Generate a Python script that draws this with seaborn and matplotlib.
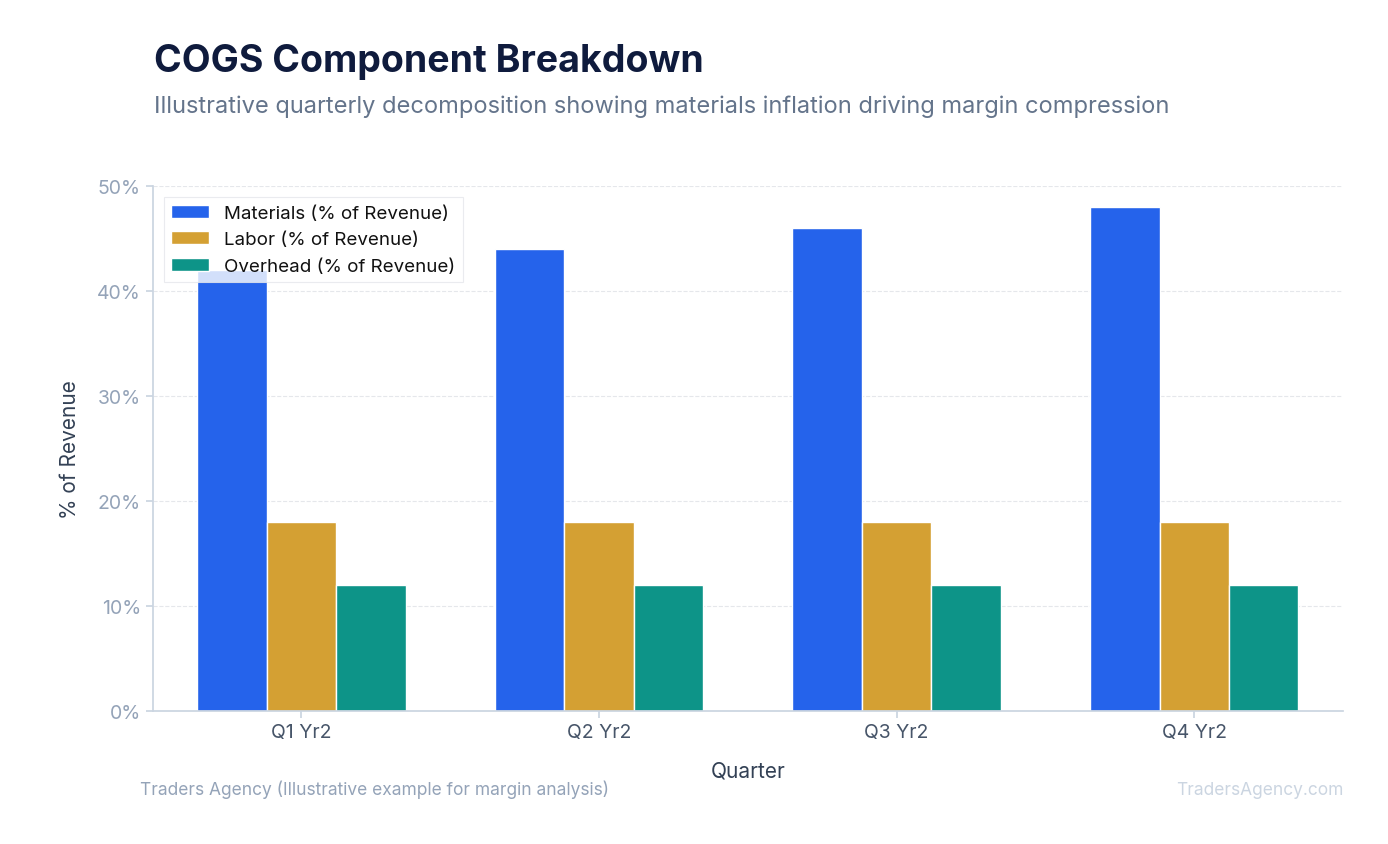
import matplotlib
matplotlib.use("Agg")
import matplotlib.pyplot as plt
import seaborn as sns
import pandas as pd
from matplotlib.ticker import FuncFormatter

quarters = ["Q1 Yr2", "Q2 Yr2", "Q3 Yr2", "Q4 Yr2"]
series = ["Materials (% of Revenue)", "Labor (% of Revenue)", "Overhead (% of Revenue)"]
materials = [42, 44, 46, 48]
labor = [18, 18, 18, 18]
overhead = [12, 12, 12, 12]
colors = ["#2563eb", "#d4a033", "#0d9488"]

rows = []
for name, vals in zip(series, [materials, labor, overhead]):
    for q, v in zip(quarters, vals):
        rows.append({"Quarter": q, "Series": name, "Value": v})
df = pd.DataFrame(rows)

sns.set_theme(style="white")
plt.rcParams['font.family'] = ['Inter', 'DejaVu Sans']

fig = plt.figure(figsize=(13.88, 8.45), dpi=100)
ax = fig.add_axes([0.110, 0.1574, 0.8576, 0.6213])
sns.barplot(data=df, x="Quarter", y="Value", hue="Series", palette=colors,
            width=0.7, ax=ax, saturation=1, zorder=2)
ax.set_ylim(0, 50)
ax.set_yticks([0, 10, 20, 30, 40, 50])
ax.yaxis.set_major_formatter(FuncFormatter(lambda v, p: f"{v:.0f}%"))
ax.grid(axis="y", color="#e5e7eb", linestyle="--", linewidth=0.8, zorder=0)
ax.set_axisbelow(True)
for s in ["top", "right"]:
    ax.spines[s].set_visible(False)
for s in ["left", "bottom"]:
    ax.spines[s].set_color("#cbd5e1")
ax.tick_params(axis="y", colors="#94a3b8", labelsize=14, left=True, length=5, color="#cbd5e1")
ax.tick_params(axis="x", colors="#475569", labelsize=14, bottom=True, length=5, color="#cbd5e1")
for t in ax.get_yticklabels():
    t.set_color("#94a3b8")
ax.set_xlabel("Quarter", fontsize=15, color="#334155", labelpad=14)
ax.set_ylabel("% of Revenue", fontsize=15, color="#334155", labelpad=12)
leg = ax.legend(loc="upper left", fontsize=13.5, frameon=True, framealpha=0.8,
                edgecolor="#e5e7eb", fancybox=False, borderaxespad=0.6)
leg.get_frame().set_linewidth(0.8)
for t in leg.get_texts():
    t.set_color("#111111")

fig.text(0.111, 0.927, "COGS Component Breakdown", fontsize=27, fontweight="bold",
         color="#0f1b3d", va="center")
fig.text(0.111, 0.874, "Illustrative quarterly decomposition showing materials inflation driving margin compression",
         fontsize=17, color="#64748b", va="center")
fig.text(0.101, 0.065, "Traders Agency (Illustrative example for margin analysis)",
         fontsize=12.5, color="#94a3b8", va="center")
fig.text(0.968, 0.065, "TradersAgency.com", fontsize=12.5, color="#cbd5e1",
         va="center", ha="right")
fig.savefig("out.png", dpi=100)
